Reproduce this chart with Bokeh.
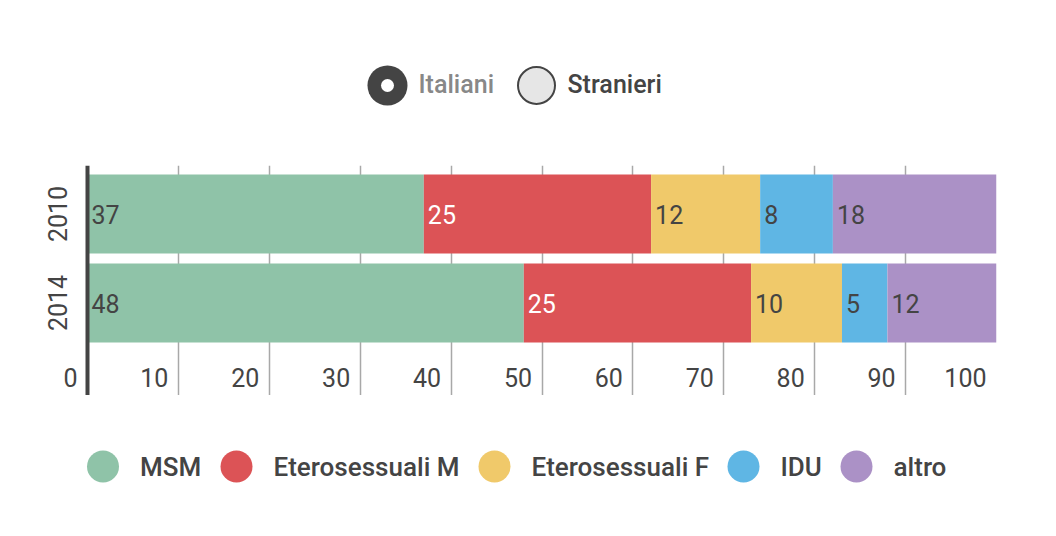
import math
from bokeh.plotting import figure
from bokeh.models import Range1d, FixedTicker, ColumnDataSource, LabelSet, Grid, Span
from bokeh.layouts import column
from bokeh.core.properties import value
from bokeh.embed import file_html
from bokeh.resources import INLINE

# ---------------- data ----------------
years = ["2010", "2014"]
categories = ["MSM", "Eterosessuali M", "Eterosessuali F", "IDU", "altro"]
msm = [37, 48]
etero_m = [25, 25]
etero_f = [12, 10]
idu = [8, 5]
altro = [18, 12]
x_ticks = [0, 10, 20, 30, 40, 50, 60, 70, 80, 90, 100]
radio_labels = ["Italiani", "Stranieri"]

# ---------------- style / layout ----------------
W = 1056
DARK = "#444444"
FONT = "Roboto"
MED = "Roboto Medium"
colors = ["#8fc3a8", "#dc5356", "#f0c96a", "#5fb6e4", "#ab91c6"]
label_colors = [DARK, "#ffffff", DARK, DARK, DARK]
TOP_H, MAIN_H, BOT_H = 150, 245, 141
AXIS_PX = 87           # pixel position of value 0
FRAME_R = 996          # pixel position of value 100
PX = (FRAME_R - AXIS_PX) / 100.0
radio_x = [387, 536]
radio_y = 85
legend_x = [102.5, 236, 494, 743, 856]
legend_y = 71
BAR_H = 0.888
YEAR_DX = -30.5        # px left of axis line
TICK_DY = 18           # px above frame bottom


def blank(h):
    f = figure(width=W, height=h, x_range=Range1d(0, FRAME_R), y_range=Range1d(h, 0),
               x_axis_type=None, y_axis_type=None, output_backend="svg",
               toolbar_location=None, min_border=0, min_border_right=W - FRAME_R)
    f.outline_line_color = None
    f.background_fill_color = "white"
    f.border_fill_color = "white"
    return f


# ---------------- top: radio buttons ----------------
top = blank(TOP_H)
top.scatter(x=[radio_x[0]], y=[radio_y], size=40, fill_color=DARK, line_color=None)
top.scatter(x=[radio_x[0]], y=[radio_y], size=13, fill_color="white", line_color=None)
top.scatter(x=[radio_x[1]], y=[radio_y], size=37, fill_color="#e6e6e6",
            line_color=DARK, line_width=2)
top.text(x=[radio_x[0] + 31, radio_x[1] + 31], y=[radio_y - 1, radio_y - 1],
         text=radio_labels, text_color=["#888888", DARK], text_font=value(MED),
         text_font_size="25px", text_baseline="middle", text_align="left")

# ---------------- main chart ----------------
ypos = list(range(len(years)))[::-1]  # first year on top
main = figure(width=W, height=MAIN_H, x_range=Range1d(-AXIS_PX / PX, 100),
              y_range=Range1d(-1.039, 1.545), x_axis_type=None, y_axis_type=None,
              output_backend="svg", toolbar_location=None,
              min_border_left=0, min_border_right=W - FRAME_R, min_border_top=15,
              min_border_bottom=0)
main.outline_line_color = None
main.background_fill_color = "white"
main.border_fill_color = "white"

grid = Grid(dimension=0, ticker=FixedTicker(ticks=x_ticks[1:]),
            grid_line_color="#a8a8a8", grid_line_width=1.5)
main.add_layout(grid)

series = [msm, etero_m, etero_f, idu, altro]
cum = [0] * len(years)
for i, vals in enumerate(series):
    left = list(cum)
    right = [c + v for c, v in zip(cum, vals)]
    src = ColumnDataSource(dict(y=ypos, left=left, right=right,
                                lab=[str(v) for v in vals]))
    main.hbar(y="y", left="left", right="right", height=BAR_H, source=src,
              fill_color=colors[i], line_color=None)
    main.text(x="left", y="y", text="lab", source=src, x_offset=4,
              text_baseline="middle", text_align="left", text_font=value(FONT),
              text_font_size="25px", text_color=label_colors[i])
    cum = right

# value axis line at 0
main.add_layout(Span(location=0, dimension="height", line_color=DARK, line_width=4))

# category labels (years), rotated
main.text(x=[YEAR_DX / PX] * len(years), y=ypos, text=years, angle=math.pi / 2,
          text_align="center", text_baseline="middle", text_font=value(FONT),
          text_font_size="25px", text_color=DARK)

# value tick labels
tick_src = ColumnDataSource(dict(x=x_ticks, y=[main.y_range.start] * len(x_ticks),
                                 t=[str(t) for t in x_ticks]))
main.add_layout(LabelSet(x="x", y="y", text="t", source=tick_src, x_offset=-10,
                         y_offset=TICK_DY, text_align="right", text_baseline="middle",
                         text_font=value(FONT), text_font_size="25px",
                         text_color=DARK))

# ---------------- bottom: legend ----------------
bot = blank(BOT_H)
bot.scatter(x=legend_x, y=[legend_y] * len(legend_x), size=32, fill_color=colors,
            line_color=None)
bot.text(x=[lx + 37 for lx in legend_x], y=[legend_y] * len(legend_x), text=categories,
         text_color=DARK, text_font=value(MED), text_font_size="26px",
         text_baseline="middle", text_align="left")

layout = column(top, main, bot, spacing=0)
open("out.html", "w").write(file_html(layout, INLINE))
